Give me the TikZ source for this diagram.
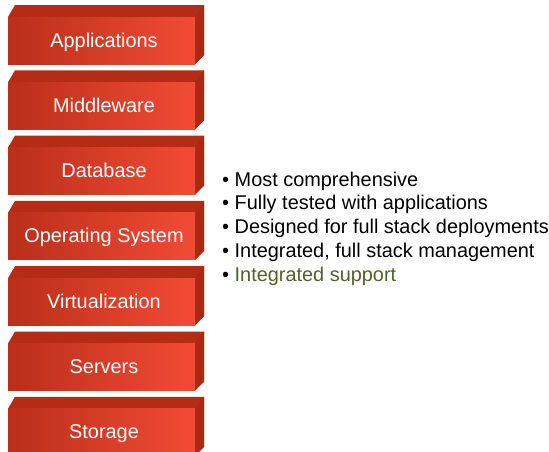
\documentclass[tikz,border=0pt]{standalone}
\usepackage{fontspec}
\setmainfont{Liberation Sans}
\definecolor{blocktop}{HTML}{B52B14}
\definecolor{blockside}{HTML}{AC2812}
\definecolor{frontleft}{HTML}{B92F1A}
\definecolor{frontmid}{HTML}{E2432C}
\definecolor{frontright}{HTML}{F24B35}
\definecolor{olivetext}{HTML}{4F6228}
\begin{document}
\begin{tikzpicture}[x=1pt,y=-1pt,
    layertext/.style={text=white,anchor=base,inner sep=0pt,font=\fontsize{19.9}{23}\selectfont},
    point/.style={anchor=base west,inner sep=0pt,font=\fontsize{19.9}{23}\selectfont}]
    \useasboundingbox (0,0) rectangle (549,451);
    % the stack, top to bottom
    \foreach \name/\txt [count=\i from 0] in {apps/Applications,mid/Middleware,db/Database,os/Operating System,virt/Virtualization,srv/Servers,stor/Storage}{
        \pgfmathsetmacro{\top}{5+65.3*\i}
        \fill[blocktop] (8,\top+12) -- (15,\top) -- (204,\top) -- (204,\top+50) -- (195,\top+59) -- (8,\top+59) -- cycle;
        \fill[blockside] (195,\top+12) -- (204,\top) -- (204,\top+50) -- (195,\top+59) -- cycle;
        \shade[left color=frontleft,middle color=frontmid,right color=frontright] (8,\top+12) rectangle (195,\top+59);
        \node[layertext] (\name) at (104,\top+42) {\txt};
    }
    % bullet points
    \node[point] (p1) at (222,186) {• Most comprehensive};
    \node[point] (p2) at (222,209.8) {• Fully tested with applications};
    \node[point] (p3) at (222,233.6) {• Designed for full stack deployments};
    \node[point] (p4) at (222,257.4) {• Integrated, full stack management};
    \node[point] (p5) at (222,281.2) {• \textcolor{olivetext}{Integrated support}};
\end{tikzpicture}
\end{document}
